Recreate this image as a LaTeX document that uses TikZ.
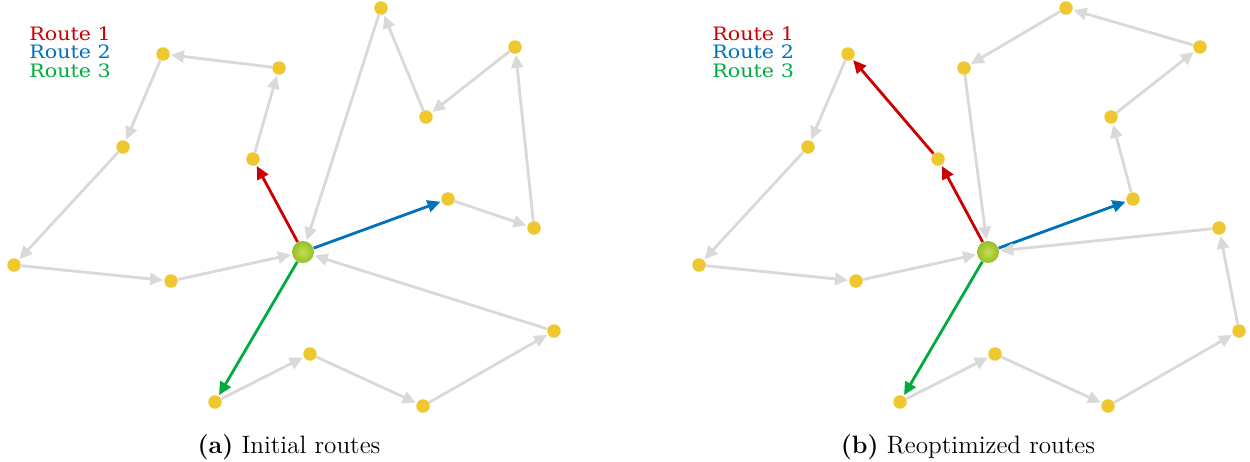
\documentclass[tikz,border=0pt]{standalone}
\usepackage{fontspec}
\newfontfamily\routefont{DejaVu Serif}[FakeStretch=1.12]
\usetikzlibrary{arrows.meta}

\definecolor{custyellow}{RGB}{238,200,46}
\definecolor{depotlight}{RGB}{196,222,84}
\definecolor{depotgreen}{RGB}{150,190,40}
\definecolor{leggray}{RGB}{217,217,217}
\definecolor{routered}{RGB}{204,0,0}
\definecolor{routeblue}{RGB}{0,114,188}
\definecolor{routegreen}{RGB}{0,172,64}

\begin{document}
\begin{tikzpicture}[x=0.02cm, y=-0.02cm,
    customer/.style={circle, fill=custyellow, inner sep=0pt, minimum size=0.27cm},
    depot/.style={circle, inner color=depotlight, outer color=depotgreen, inner sep=0pt, minimum size=0.44cm},
    leg/.style={draw=leggray, line width=1.6pt, -{Triangle[length=0.26cm, width=0.24cm]}, shorten >=0.5pt},
    legred/.style={leg, draw=routered},
    legblue/.style={leg, draw=routeblue},
    leggreen/.style={leg, draw=routegreen},
    legend/.style={font=\routefont\fontsize{10.5}{12}\selectfont, anchor=west, inner sep=0pt},
    caption/.style={font=\fontsize{14.3}{16}\selectfont, inner sep=0pt}]

    \useasboundingbox (0,0) rectangle (1250,461);

    % Legend of the left panel
    \node[legend, text=routered] (la1) at (29, 34) {Route 1};
    \node[legend, text=routeblue] (la2) at (29, 52) {Route 2};
    \node[legend, text=routegreen] (la3) at (29, 71) {Route 3};

    % Depot and customers, left panel
    \node[depot] (a0) at (303, 252) {};
    \node[customer] (a1) at (163, 54) {};
    \node[customer] (a2) at (279, 68) {};
    \node[customer] (a3) at (123, 147) {};
    \node[customer] (a4) at (253, 159) {};
    \node[customer] (a5) at (381, 8) {};
    \node[customer] (a6) at (426, 117) {};
    \node[customer] (a7) at (515, 47) {};
    \node[customer] (a8) at (448, 199) {};
    \node[customer] (a9) at (534, 228) {};
    \node[customer] (a10) at (14, 265) {};
    \node[customer] (a11) at (171, 281) {};
    \node[customer] (a12) at (215, 402) {};
    \node[customer] (a13) at (310, 354) {};
    \node[customer] (a14) at (423, 406) {};
    \node[customer] (a15) at (554, 331) {};

    % Initial routes
    \draw[legred] (a0) -- (a4);
    \draw[leg] (a4) -- (a2);
    \draw[leg] (a2) -- (a1);
    \draw[leg] (a1) -- (a3);
    \draw[leg] (a3) -- (a10);
    \draw[leg] (a10) -- (a11);
    \draw[leg] (a11) -- (a0);

    \draw[legblue] (a0) -- (a8);
    \draw[leg] (a8) -- (a9);
    \draw[leg] (a9) -- (a7);
    \draw[leg] (a7) -- (a6);
    \draw[leg] (a6) -- (a5);
    \draw[leg] (a5) -- (a0);

    \draw[leggreen] (a0) -- (a12);
    \draw[leg] (a12) -- (a13);
    \draw[leg] (a13) -- (a14);
    \draw[leg] (a14) -- (a15);
    \draw[leg] (a15) -- (a0);

    \node[caption] (capa) at (289, 447) {\textbf{(a)} Initial routes};

    % Legend of the right panel
    \node[legend, text=routered] (lb1) at (29+683, 34) {Route 1};
    \node[legend, text=routeblue] (lb2) at (29+683, 52) {Route 2};
    \node[legend, text=routegreen] (lb3) at (29+683, 71) {Route 3};

    % Same depot and customers, shifted to the right
    \node[depot] (b0) at (303+685, 252) {};
    \node[customer] (b1) at (163+685, 54) {};
    \node[customer] (b2) at (279+685, 68) {};
    \node[customer] (b3) at (123+685, 147) {};
    \node[customer] (b4) at (253+685, 159) {};
    \node[customer] (b5) at (381+685, 8) {};
    \node[customer] (b6) at (426+685, 117) {};
    \node[customer] (b7) at (515+685, 47) {};
    \node[customer] (b8) at (448+685, 199) {};
    \node[customer] (b9) at (534+685, 228) {};
    \node[customer] (b10) at (14+685, 265) {};
    \node[customer] (b11) at (171+685, 281) {};
    \node[customer] (b12) at (215+685, 402) {};
    \node[customer] (b13) at (310+685, 354) {};
    \node[customer] (b14) at (423+685, 406) {};
    \node[customer] (b15) at (554+685, 331) {};

    % Reoptimized routes
    \draw[legred] (b0) -- (b4);
    \draw[legred] (b4) -- (b1);
    \draw[leg] (b1) -- (b3);
    \draw[leg] (b3) -- (b10);
    \draw[leg] (b10) -- (b11);
    \draw[leg] (b11) -- (b0);

    \draw[legblue] (b0) -- (b8);
    \draw[leg] (b8) -- (b6);
    \draw[leg] (b6) -- (b7);
    \draw[leg] (b7) -- (b5);
    \draw[leg] (b5) -- (b2);
    \draw[leg] (b2) -- (b0);

    \draw[leggreen] (b0) -- (b12);
    \draw[leg] (b12) -- (b13);
    \draw[leg] (b13) -- (b14);
    \draw[leg] (b14) -- (b15);
    \draw[leg] (b15) -- (b9);
    \draw[leg] (b9) -- (b0);

    \node[caption] (capb) at (968, 447) {\textbf{(b)} Reoptimized routes};

\end{tikzpicture}
\end{document}
